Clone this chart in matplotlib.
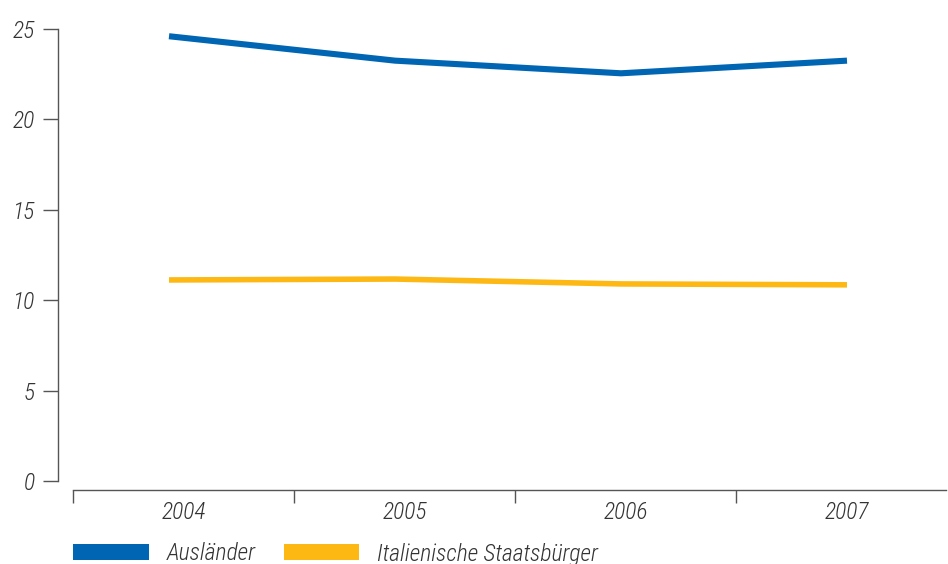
import matplotlib
matplotlib.use("Agg")
import matplotlib.pyplot as plt
from matplotlib.patches import Patch

years = ["2004", "2005", "2006", "2007"]
auslaender = [24.6, 23.25, 22.55, 23.25]
italiener = [11.12, 11.17, 10.9, 10.85]
series_names = ["Ausländer", "Italienische Staatsbürger"]
series_colors = ["#0066B3", "#FDB813"]
y_ticks = [0, 5, 10, 15, 20, 25]

plt.rcParams["font.family"] = ["Roboto Condensed", "DejaVu Sans"]
plt.rcParams["font.style"] = "italic"
plt.rcParams["font.weight"] = "light"
text_color = "#333333"
axis_color = "#555555"
fs = 17

W, H = 948, 564
fig = plt.figure(figsize=(W / 100, H / 100), dpi=100)

# main plotting area: left spine at x=58, y from 0 (px 481) to 25 (px 29)
x0, x1 = 58, 946
ytop, ybot = 29, 481
ax = fig.add_axes([x0 / W, 1 - ybot / H, (x1 - x0) / W, (ybot - ytop) / H])
ax.patch.set_visible(False)
unit = 226.0
ax.set_xlim(-(169 - x0) / unit, 3 + (x1 - 847) / unit)
ax.set_ylim(0, 25)

xs = list(range(len(years)))
ax.plot(xs, auslaender, color=series_colors[0], lw=4.4, solid_capstyle="butt",
        solid_joinstyle="round")
ax.plot(xs, italiener, color=series_colors[1], lw=4.0, solid_capstyle="butt",
        solid_joinstyle="round")

for s in ["top", "right", "bottom"]:
    ax.spines[s].set_visible(False)
ax.spines["left"].set_color(axis_color)
ax.spines["left"].set_linewidth(1.0)
ax.set_xticks([])
ax.set_yticks(y_ticks)
ax.set_yticklabels([str(v) for v in y_ticks])
ax.tick_params(axis="y", direction="out", length=10.8, width=1.0, color=axis_color,
               pad=6, labelsize=fs, labelcolor=text_color)

# category axis below the plot
cx0, cx1, cy = 73, 946, 489.5
step = 221.0
axb = fig.add_axes([cx0 / W, 1 - cy / H, (cx1 - cx0) / W, 0.0001])
axb.patch.set_visible(False)
axb.set_xlim(0, (cx1 - cx0) / step)
axb.set_ylim(0, 1)
for s in ["top", "right", "left"]:
    axb.spines[s].set_visible(False)
axb.spines["bottom"].set_color(axis_color)
axb.spines["bottom"].set_linewidth(1.0)
axb.set_yticks([])
axb.set_xticks([0, 1, 2, 3])
axb.set_xticklabels([])
axb.set_xticks([i + 0.5 for i in range(len(years))], minor=True)
axb.set_xticklabels(years, minor=True)
axb.tick_params(axis="x", which="major", direction="out", length=9.6, width=1.0,
                color=axis_color)
axb.tick_params(axis="x", which="minor", length=0, pad=8, labelsize=fs,
                labelcolor=text_color)

handles = [Patch(facecolor=c, edgecolor="none") for c in series_colors]
leg = fig.legend(handles, series_names, loc="center left",
                 bbox_to_anchor=(73 / W, 1 - 554 / H), ncol=2, frameon=False,
                 fontsize=fs, handlelength=3.2, handleheight=0.68,
                 handletextpad=0.76, columnspacing=1.2, borderpad=0,
                 borderaxespad=0)
for t in leg.get_texts():
    t.set_color(text_color)

fig.savefig("out.png", dpi=100)
